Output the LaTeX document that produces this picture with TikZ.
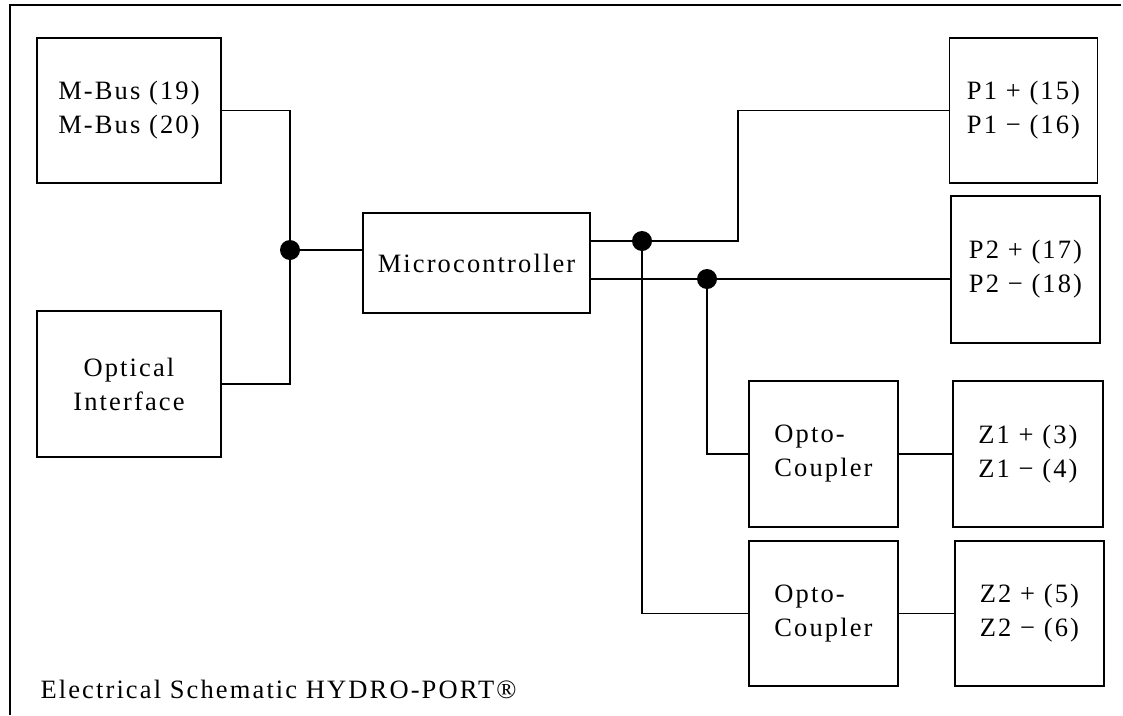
\documentclass[tikz,border=0pt]{standalone}
\usepackage{fontspec}
\setmainfont{Liberation Serif}[LetterSpace=8]
\usepackage{tikz}
\usetikzlibrary{positioning}

\begin{document}
\begin{tikzpicture}[x=1pt, y=-1pt,
    block/.style={rectangle, draw=black, line width=1.7pt, inner sep=0pt, align=center,
                  font=\fontsize{26.5}{34}\selectfont},
    wire/.style={line width=1.7pt},
    junction/.style={circle, fill=black, inner sep=0pt, minimum size=20pt},
    caption/.style={font=\fontsize{26.5}{34}\selectfont}
]
\useasboundingbox (0,0) rectangle (1123,715);

% frame
\draw[line width=2pt] (10,715) -- (10,5) -- (1121,5);

% left side
\node[block, minimum width=184pt, minimum height=145pt] (mbus) at (129,110.5) {M-Bus (19)\\M-Bus (20)};
\node[block, minimum width=184pt, minimum height=146pt] (optical) at (129,384) {Optical\\Interface};
\node[block, minimum width=227pt, minimum height=100pt] (micro) at (476.5,263) {Microcontroller};

% right side
\node[block, minimum width=148pt, minimum height=145pt] (p1) at (1023.5,110.5) {P1 + (15)\\P1 − (16)};
\node[block, minimum width=149pt, minimum height=147pt] (p2) at (1025.5,269.5) {P2 + (17)\\P2 − (18)};
\node[block, minimum width=149pt, minimum height=146pt, align=left] (opto1) at (823.5,454) {Opto-\\Coupler};
\node[block, minimum width=150pt, minimum height=146pt] (z1) at (1028,454) {Z1 + (3)\\Z1 − (4)};
\node[block, minimum width=149pt, minimum height=145pt, align=left] (opto2) at (823.5,613.5) {Opto-\\Coupler};
\node[block, minimum width=149pt, minimum height=145pt] (z2) at (1029.5,613.5) {Z2 + (5)\\Z2 − (6)};

% junctions
\coordinate (jleft) at (290,250);
\coordinate (jp1) at (642,241);
\coordinate (jp2) at (707,279);
\coordinate (bend) at (738,241);

% wires
\draw[wire] (mbus.east) -| (jleft);
\draw[wire] (optical.east) -| (jleft);
\draw[wire] (jleft) -- (jleft -| micro.west);
\draw[wire] (jp1 -| micro.east) -- (bend) |- (p1.west);
\draw[wire] (jp2 -| micro.east) -- (jp2 -| p2.west);
\draw[wire] (jp1) |- (opto2.west);
\draw[wire] (jp2) |- (opto1.west);
\draw[wire] (opto1) -- (z1);
\draw[wire] (opto2) -- (z2);

\node[junction] at (jleft) {};
\node[junction] at (jp1) {};
\node[junction] at (jp2) {};

\node[caption, anchor=base west] (title) at (37,698) {Electrical Schematic HYDRO-PORT®};

\end{tikzpicture}
\end{document}
